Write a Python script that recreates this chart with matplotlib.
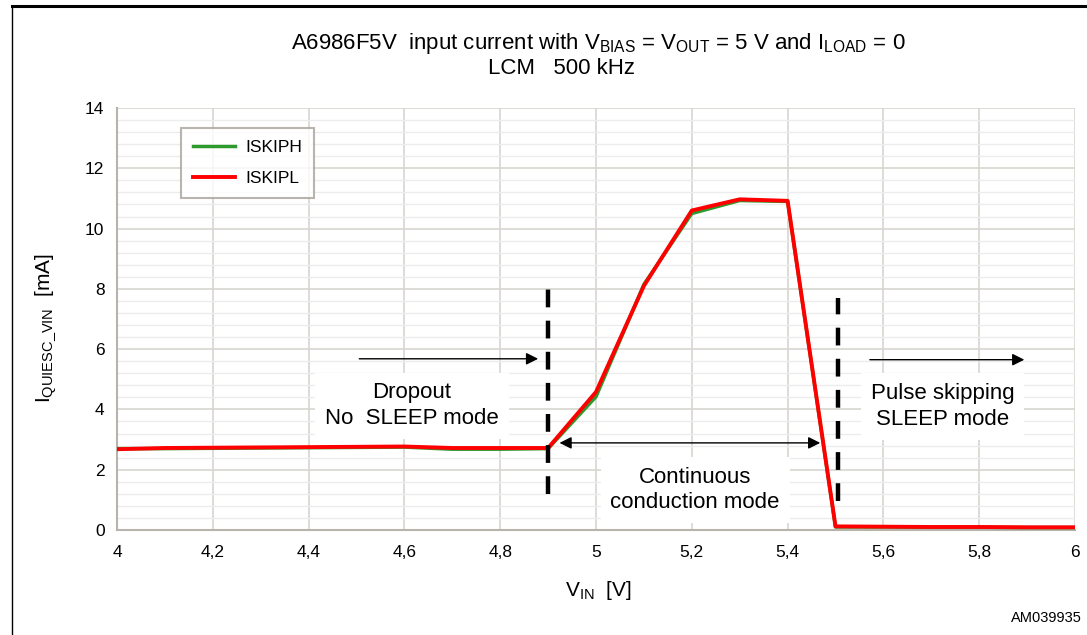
import numpy as np
import matplotlib
matplotlib.use("Agg")
import matplotlib.pyplot as plt
from matplotlib.ticker import MultipleLocator, FuncFormatter
from matplotlib.lines import Line2D

plt.rcParams['font.family'] = ['Liberation Sans', 'DejaVu Sans']
plt.rcParams['mathtext.default'] = 'regular'

# data
vin = [4.0, 4.1, 4.2, 4.3, 4.4, 4.5, 4.6, 4.7, 4.8, 4.9, 5.0, 5.1, 5.2, 5.3, 5.4,
       5.5, 5.6, 5.7, 5.8, 5.9, 6.0]
iskiph = [2.70, 2.70, 2.71, 2.72, 2.73, 2.74, 2.75, 2.68, 2.68, 2.70, 4.42, 8.15, 10.50,
          10.93, 10.90, 0.10, 0.10, 0.09, 0.09, 0.08, 0.08]
iskipl = [2.68, 2.72, 2.73, 2.74, 2.75, 2.76, 2.77, 2.72, 2.72, 2.72, 4.58, 8.10, 10.60,
          10.97, 10.92, 0.12, 0.11, 0.10, 0.10, 0.09, 0.09]

W, H = 1087, 635
fig = plt.figure(figsize=(W/100, H/100), dpi=100)
ax = fig.add_axes([117/W, 1-530/H, 958/W, 422/H])

# page frame
fig.add_artist(Line2D([12/W, 1.0], [1-6/H, 1-6/H], color='black', lw=2.2,
                      transform=fig.transFigure))
fig.add_artist(Line2D([12/W, 12/W], [0, 1-6/H], color='black', lw=1.0,
                      transform=fig.transFigure))

ax.set_xlim(4, 6)
ax.set_ylim(0, 14)
ax.xaxis.set_major_locator(MultipleLocator(0.2))
ax.yaxis.set_major_locator(MultipleLocator(2))
ax.yaxis.set_minor_locator(MultipleLocator(0.4))
ax.xaxis.set_major_formatter(FuncFormatter(lambda v, p: ('%g' % round(v, 2)).replace('.', ',')))
ax.grid(which='major', color='#d8d5cf', lw=1.2)
ax.grid(which='minor', axis='y', color='#ececec', lw=1.0)
ax.set_axisbelow(True)
ax.tick_params(which='both', length=0, labelsize=12.5, pad=9)
ax.tick_params(axis='x', pad=11)
for s in ['top', 'right']:
    ax.spines[s].set_visible(False)
for s in ['left', 'bottom']:
    ax.spines[s].set_color('#b8b4ac')
    ax.spines[s].set_linewidth(1.5)

ax.plot(vin, iskiph, color='#2e9a2e', lw=2.5, label='ISKIPH', zorder=3)
ax.plot(vin, iskipl, color='#ff0000', lw=2.8, label='ISKIPL', zorder=4)

# mode boundaries
ax.plot([4.9, 4.9], [1.2, 8.0], color='black', lw=3.2, dashes=(4, 3.0), zorder=5)
ax.plot([5.505, 5.505], [0.95, 7.7], color='black', lw=3.2, dashes=(4, 3.0), zorder=5)

arr = dict(arrowstyle='-|>', color='black', lw=1.0, mutation_scale=18)
ax.annotate('', xy=(4.885, 5.68), xytext=(4.5, 5.68), arrowprops=arr, zorder=6)
ax.annotate('', xy=(5.9, 5.65), xytext=(5.566, 5.65), arrowprops=arr, zorder=6)
ax.annotate('', xy=(5.474, 2.89), xytext=(4.918, 2.89),
            arrowprops=dict(arrowstyle='<|-|>', color='black', lw=1.0, mutation_scale=18), zorder=6)

box = dict(facecolor='white', edgecolor='none', pad=7)
ax.text(4.616, 4.12, 'Dropout\nNo  SLEEP mode', ha='center', va='center', fontsize=16,
        linespacing=1.3, bbox=box, zorder=5)
ax.text(5.207, 1.33, 'Continuous\nconduction mode', ha='center', va='center', fontsize=16,
        linespacing=1.3, bbox=box, zorder=5)
ax.text(5.724, 4.1, 'Pulse skipping\nSLEEP mode', ha='center', va='center', fontsize=16,
        linespacing=1.3, bbox=box, zorder=5)

leg = ax.legend(loc='upper left', bbox_to_anchor=(0.0576, 0.974), fontsize=12.5,
                frameon=True, fancybox=False, handlelength=2.4, borderpad=0.7,
                labelspacing=0.9, handletextpad=0.6)
leg.get_frame().set_edgecolor('#a8a39a')
leg.get_frame().set_linewidth(1.5)

fig.text(598/W, 1-49/H, 'A6986F5V  input current with V$_{BIAS}$ = V$_{OUT}$ = 5 V and I$_{LOAD}$ = 0',
         ha='center', va='baseline', fontsize=16)
fig.text(562/W, 1-74/H, 'LCM   500 kHz', ha='center', va='baseline', fontsize=16)
fig.text(598/W, 1-590/H, 'V$_{IN}$  [V]', ha='center', va='center', fontsize=15)
fig.text(46/W, 1-328/H, 'I$_{QUIESC\\_VIN}$  [mA]', ha='center', va='center',
         rotation=90, fontsize=15)
fig.text(1082/W, 1-618/H, 'AM039935', ha='right', va='center', fontsize=10.5)

fig.savefig('out.png', dpi=100)
